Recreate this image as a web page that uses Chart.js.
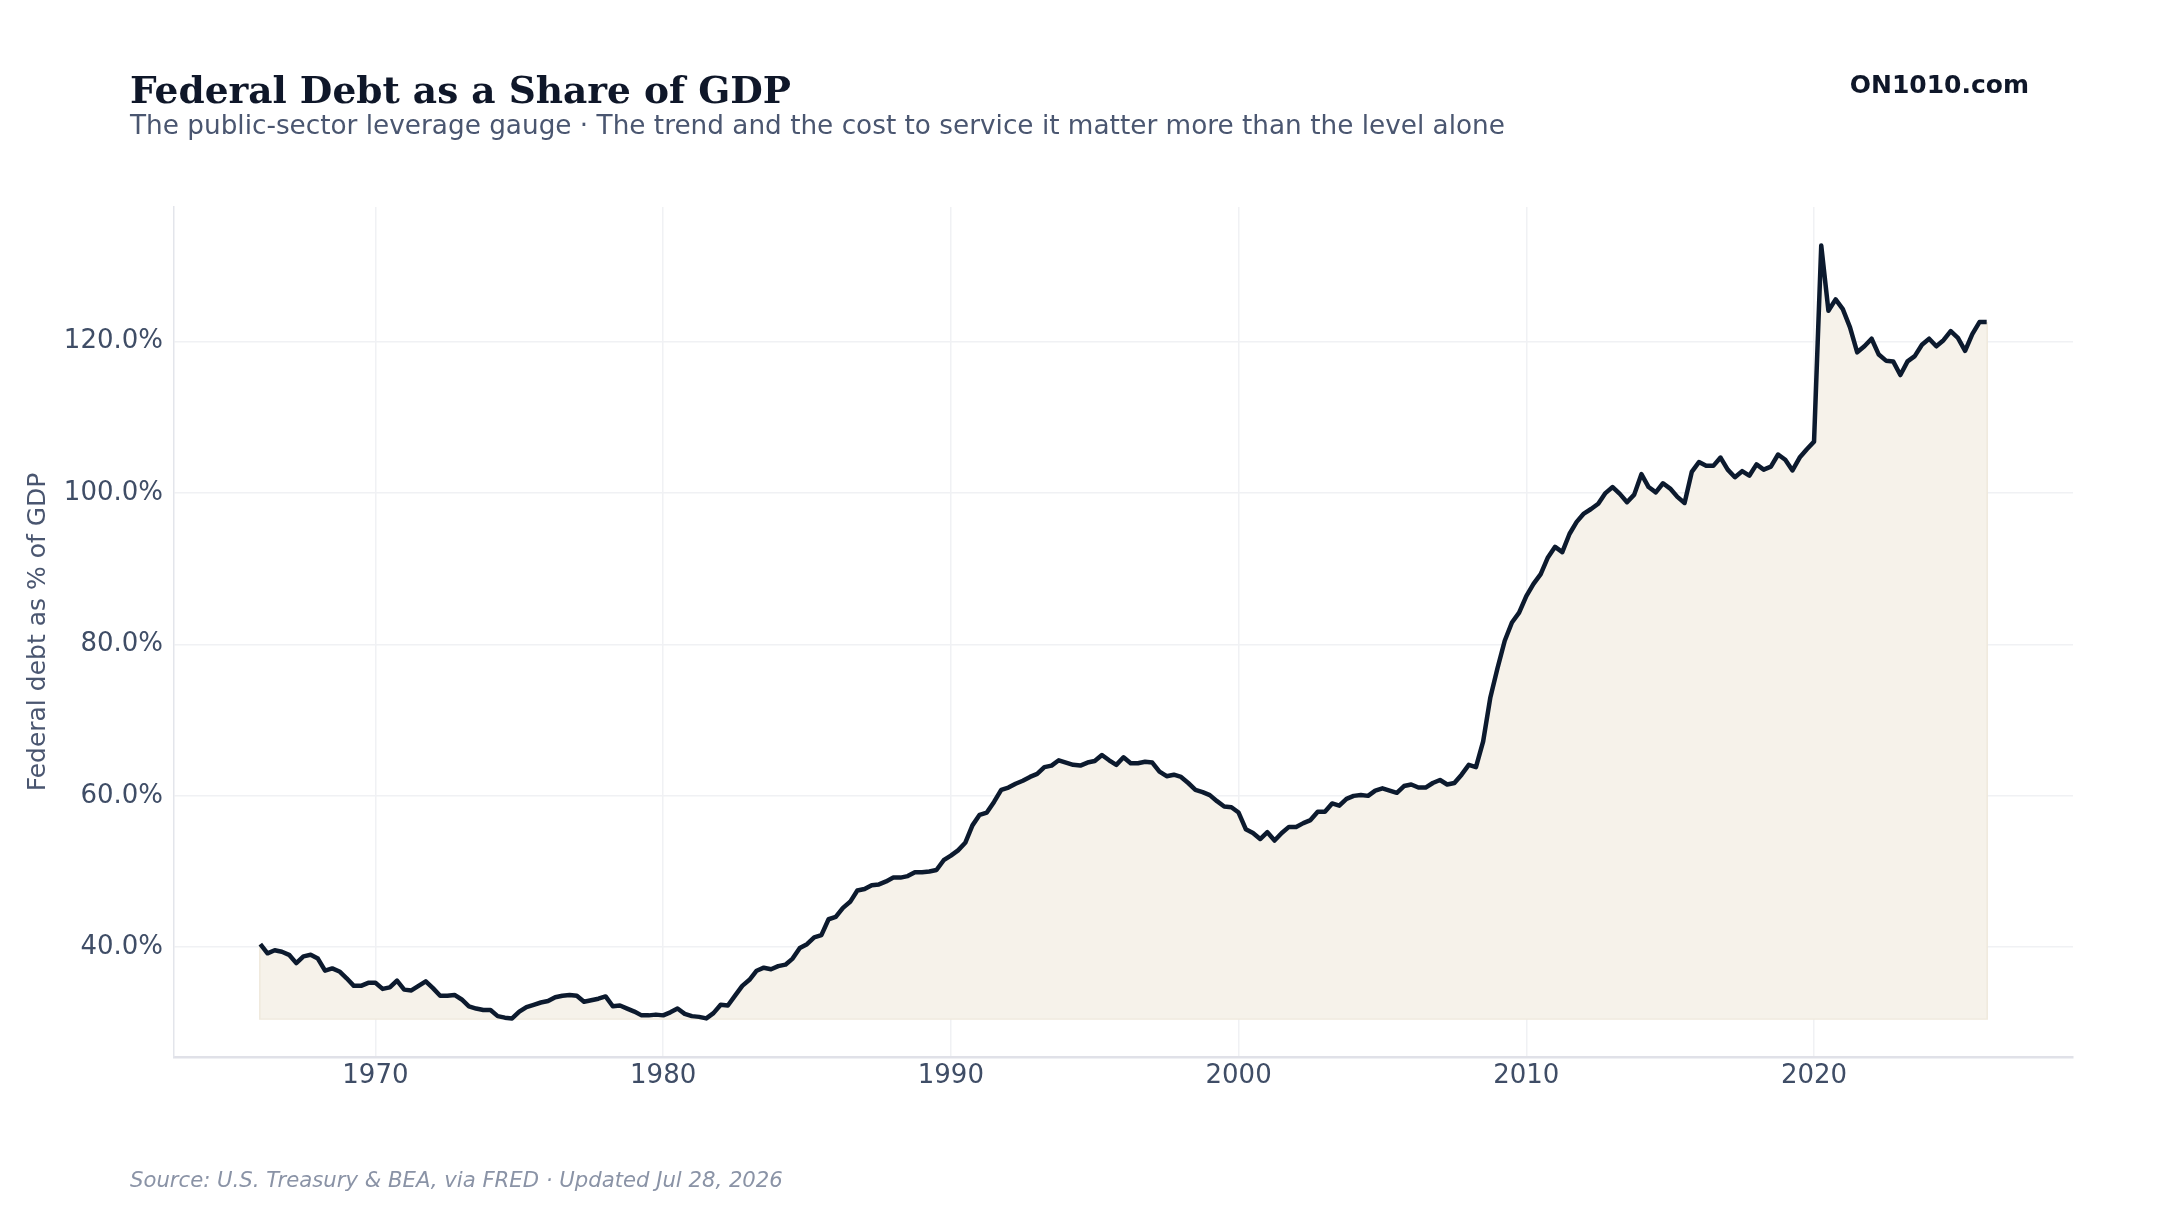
<!DOCTYPE html>
<html>
<head>
<meta charset="utf-8">
<script src="https://cdn.jsdelivr.net/npm/chart.js@4.4.1/dist/chart.umd.min.js"></script>
<style>
html,body{margin:0;padding:0;background:#ffffff;width:2160px;height:1215px;overflow:hidden;}
#wrap{position:relative;width:2160px;height:1215px;}
#c{position:absolute;left:0;top:0;}
.t{position:absolute;white-space:nowrap;line-height:1;}
#title{left:130px;top:71.5px;font-family:"DejaVu Serif";font-weight:bold;font-size:37.5px;color:#0f1729;}
#sub{left:130px;top:112px;font-family:"DejaVu Sans";font-size:26.3px;color:#4a5670;}
#brand{right:131px;top:71.5px;font-family:"DejaVu Sans";font-weight:bold;font-size:25px;color:#0f1729;}
#src{left:130px;top:1169px;font-family:"DejaVu Sans";font-style:italic;font-size:21.2px;color:#8a93a6;}
</style>
</head>
<body>
<div id="wrap">
<canvas id="c" width="2160" height="1215"></canvas>
<div class="t" id="title">Federal Debt as a Share of GDP</div>
<div class="t" id="sub">The public-sector leverage gauge · The trend and the cost to service it matter more than the level alone</div>
<div class="t" id="brand">ON1010.com</div>
<div class="t" id="src">Source: U.S. Treasury &amp; BEA, via FRED · Updated Jul 28, 2026</div>
</div>
<script>
// Quarterly series starting 1966 Q1, federal debt as % of GDP
const firstYear = 1966;
const debtPct = [
  40.4, 39.2, 39.6, 39.4,  39.0, 37.9, 38.8, 39.0,  38.5, 36.9, 37.2, 36.8,  35.9, 34.9, 34.9, 35.3,
  35.3, 34.5, 34.7, 35.6,  34.4, 34.3, 34.9, 35.5,  34.6, 33.6, 33.6, 33.7,  33.1, 32.2, 31.9, 31.7,
  31.7, 30.9, 30.7, 30.6,  31.5, 32.1, 32.4, 32.7,  32.9, 33.4, 33.6, 33.7,  33.6, 32.8, 33.0, 33.2,
  33.5, 32.2, 32.3, 31.9,  31.5, 31.0, 31.0, 31.1,  31.0, 31.4, 31.9, 31.2,  30.9, 30.8, 30.6, 31.3,
  32.4, 32.3, 33.6, 34.9,  35.7, 36.9, 37.3, 37.1,  37.5, 37.7, 38.5, 39.9,  40.4, 41.3, 41.6, 43.7,
  44.0, 45.2, 46.0, 47.5,  47.7, 48.2, 48.3, 48.7,  49.2, 49.2, 49.4, 49.9,  49.9, 50.0, 50.2, 51.5,
  52.1, 52.8, 53.8, 56.1,  57.5, 57.8, 59.2, 60.8,  61.1, 61.6, 62.0, 62.5,  62.9, 63.8, 64.0, 64.7,
  64.4, 64.1, 64.0, 64.4,  64.6, 65.4, 64.7, 64.1,  65.1, 64.3, 64.3, 64.5,  64.4, 63.2, 62.6, 62.8,
  62.5, 61.7, 60.8, 60.5,  60.1, 59.3, 58.6, 58.5,  57.8, 55.6, 55.1, 54.3,  55.2, 54.1, 55.1, 55.9,
  55.9, 56.4, 56.8, 57.9,  57.9, 59.0, 58.7, 59.6,  60.0, 60.1, 60.0, 60.7,  61.0, 60.7, 60.4, 61.3,
  61.5, 61.1, 61.1, 61.7,  62.1, 61.5, 61.7, 62.8,  64.1, 63.8, 67.2, 73.0,  76.9, 80.5, 82.9, 84.2,
  86.4, 88.0, 89.3, 91.5,  92.9, 92.2, 94.6, 96.2,  97.3, 97.9, 98.6, 100.0, 100.8, 99.9, 98.8, 99.8,
  102.5, 100.8, 100.1, 101.3, 100.6, 99.5, 98.7, 102.8, 104.1, 103.6, 103.6, 104.7, 103.1, 102.1, 102.9, 102.3,
  103.8, 103.1, 103.5, 105.1, 104.4, 103.0, 104.7, 105.8, 106.8, 132.7, 124.1, 125.6, 124.3, 121.9, 118.6, 119.4,
  120.4, 118.3, 117.5, 117.4, 115.6, 117.4, 118.1, 119.6, 120.4, 119.4, 120.2, 121.4, 120.5, 118.8, 121.0, 122.6,
  122.6
];
const xTicks = [1970, 1980, 1990, 2000, 2010, 2020];
const yTicks = [40, 60, 80, 100, 120];
const xRange = [1963, 2029];
const yRange = [25.5, 137.8];

const points = debtPct.map((v, i) => ({ x: firstYear + Math.floor(i / 4) + (i % 4) / 4, y: v }));
const fillBase = Math.min(...debtPct);

const tickFont = { family: 'DejaVu Sans', size: 26 };
const tickColor = '#3f4d66';
const gridColor = '#f0f1f4';

// faint outline on the left, bottom and right edges of the shaded area
const fillEdge = {
  id: 'fillEdge',
  beforeDatasetsDraw(chart) {
    const xs = chart.scales.x, ys = chart.scales.y, ctx = chart.ctx;
    const first = points[0], last = points[points.length - 1];
    const yb = ys.getPixelForValue(fillBase);
    ctx.save();
    ctx.strokeStyle = '#efe9dc';
    ctx.lineWidth = 2.5;
    ctx.beginPath();
    ctx.moveTo(xs.getPixelForValue(first.x), ys.getPixelForValue(first.y));
    ctx.lineTo(xs.getPixelForValue(first.x), yb);
    ctx.lineTo(xs.getPixelForValue(last.x), yb);
    ctx.lineTo(xs.getPixelForValue(last.x), ys.getPixelForValue(last.y));
    ctx.stroke();
    ctx.restore();
  }
};

new Chart(document.getElementById('c'), {
  type: 'line',
  data: {
    datasets: [{
      data: points,
      borderColor: '#0c1a2e',
      borderWidth: 4.5,
      borderJoinStyle: 'round',
      pointRadius: 0,
      tension: 0,
      fill: { value: fillBase },
      backgroundColor: '#f6f2ea'
    }]
  },
  plugins: [fillEdge],
  options: {
    responsive: false,
    animation: false,
    devicePixelRatio: 1,
    layout: { padding: { left: 0, top: 207, right: 87, bottom: 98 } },
    plugins: { legend: { display: false }, tooltip: { enabled: false }, title: { display: false } },
    scales: {
      x: {
        type: 'linear',
        min: xRange[0], max: xRange[1],
        afterBuildTicks: s => { s.ticks = xTicks.map(v => ({ value: v })); },
        afterFit: s => { s.height = 60; },
        ticks: { font: tickFont, color: tickColor, padding: 4, maxRotation: 0, autoSkip: false, callback: v => String(v) },
        grid: { color: gridColor, lineWidth: 1.5, drawTicks: false },
        border: { color: '#e0e1e8', width: 2.5 }
      },
      y: {
        min: yRange[0], max: yRange[1],
        afterBuildTicks: s => { s.ticks = yTicks.map(v => ({ value: v })); },
        afterFit: s => { s.width = 174; },
        ticks: { font: tickFont, color: tickColor, padding: 11, callback: v => v.toFixed(1) + '%' },
        grid: { color: gridColor, lineWidth: 1.5, drawTicks: false },
        border: { color: '#e3e5eb', width: 1.5 },
        title: { display: true, text: 'Federal debt as % of GDP', color: '#4a5670', font: { family: 'DejaVu Sans', size: 25 }, padding: { top: 23, bottom: 0 } }
      }
    }
  }
});
</script>
</body>
</html>
